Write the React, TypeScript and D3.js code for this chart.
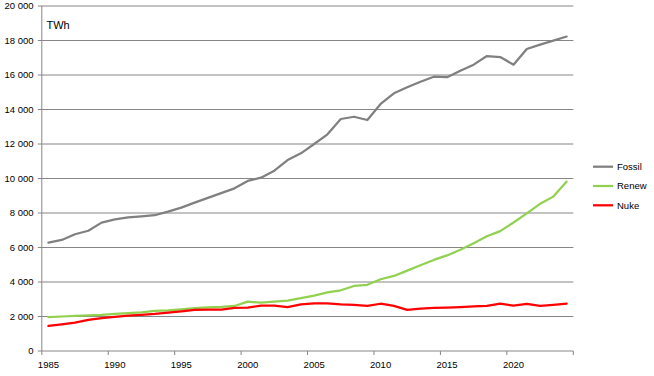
import React from "react";
import * as d3 from "d3";

const years: number[] = d3.range(1985, 2025);
const fossil: number[] = [6280, 6440, 6770, 6970, 7440, 7630, 7750, 7810, 7870, 8080, 8310, 8600, 8880, 9150, 9430, 9860, 10050, 10450, 11070, 11460, 12000, 12560, 13450, 13580, 13390, 14320, 14940, 15290, 15610, 15900, 15870, 16250, 16600, 17100, 17040, 16600, 17510, 17760, 17990, 18230];
const renew: number[] = [1970, 2000, 2030, 2070, 2100, 2150, 2200, 2240, 2330, 2360, 2420, 2480, 2530, 2560, 2610, 2860, 2800, 2860, 2920, 3060, 3210, 3400, 3520, 3770, 3840, 4160, 4350, 4660, 4970, 5280, 5540, 5870, 6250, 6650, 6950, 7450, 7980, 8530, 8950, 9820];
const nuke: number[] = [1450, 1550, 1650, 1800, 1900, 1980, 2050, 2100, 2150, 2220, 2300, 2380, 2400, 2400, 2500, 2510, 2630, 2630, 2540, 2700, 2760, 2760, 2700, 2680, 2610, 2740, 2620, 2380, 2450, 2500, 2520, 2550, 2580, 2610, 2750, 2630, 2730, 2620, 2680, 2750];
const yTicks: number[] = d3.range(0, 20001, 2000);
const xLabelYears: number[] = [1985, 1990, 1995, 2000, 2005, 2010, 2015, 2020];
const seriesNames: string[] = ["Fossil", "Renew", "Nuke"];
const seriesColors: string[] = ["#808080", "#92D050", "#FF0000"];
const unitLabel = "TWh";

const W = 654;
const H = 376;
const left = 41.8;
const right = 573.3;
const top = 6;
const bottom = 351;
const FONT = "'Liberation Sans', Arial, sans-serif";

export default function App() {
  const x = d3.scaleBand<number>().domain(years).range([left, right]).paddingInner(0).paddingOuter(0);
  const y = d3.scaleLinear().domain([0, 20000]).range([bottom, top]);
  const cx = (yr: number) => (x(yr) as number) + x.bandwidth() / 2;
  const fmt = (v: number) => d3.format(",")(v).replace(/,/g, "\u00a0");
  const line = d3
    .line<number>()
    .x((_, i) => cx(years[i]))
    .y((d) => y(d));
  const allSeries = [fossil, renew, nuke];
  const grid = "#868686";

  return (
    <svg
      width={W}
      height={H}
      style={{ position: "absolute", left: 0, top: 0, background: "#fff" }}
      fontFamily={FONT}
    >
      {yTicks.map((t) => (
        <g key={t}>
          <line x1={left - 4} x2={t === 0 ? left : right} y1={y(t)} y2={y(t)} stroke={grid} strokeWidth={1} />
          <text x={33.5} y={y(t)} dy="0.35em" textAnchor="end" fontSize={9.5} fill="#000">
            {fmt(t)}
          </text>
        </g>
      ))}
      <line x1={left} x2={left} y1={top} y2={bottom} stroke={grid} strokeWidth={1} />
      <line x1={left} x2={right} y1={bottom} y2={bottom} stroke={grid} strokeWidth={1} />
      {xLabelYears.map((yr) => (
        <g key={yr}>
          <line x1={x(yr) as number} x2={x(yr) as number} y1={bottom} y2={bottom + 4} stroke={grid} strokeWidth={1} />
          <text x={cx(yr)} y={368} textAnchor="middle" fontSize={9.5} fill="#000">
            {yr}
          </text>
        </g>
      ))}
      <line x1={right} x2={right} y1={bottom} y2={bottom + 4} stroke={grid} strokeWidth={1} />
      <text x={46.5} y={29} fontSize={11} fill="#000">
        {unitLabel}
      </text>
      {allSeries.map((s, k) => (
        <path
          key={seriesNames[k]}
          d={line(s) || ""}
          fill="none"
          stroke={seriesColors[k]}
          strokeWidth={2.25}
          strokeLinejoin="round"
          strokeLinecap="round"
        />
      ))}
      {seriesNames.map((n, k) => (
        <g key={n}>
          <line x1={593} x2={613} y1={166.7 + k * 19.3} y2={166.7 + k * 19.3} stroke={seriesColors[k]} strokeWidth={2.25} />
          <text x={617} y={166.7 + k * 19.3} dy="0.35em" fontSize={9.5} fill="#000">
            {n}
          </text>
        </g>
      ))}
    </svg>
  );
}
